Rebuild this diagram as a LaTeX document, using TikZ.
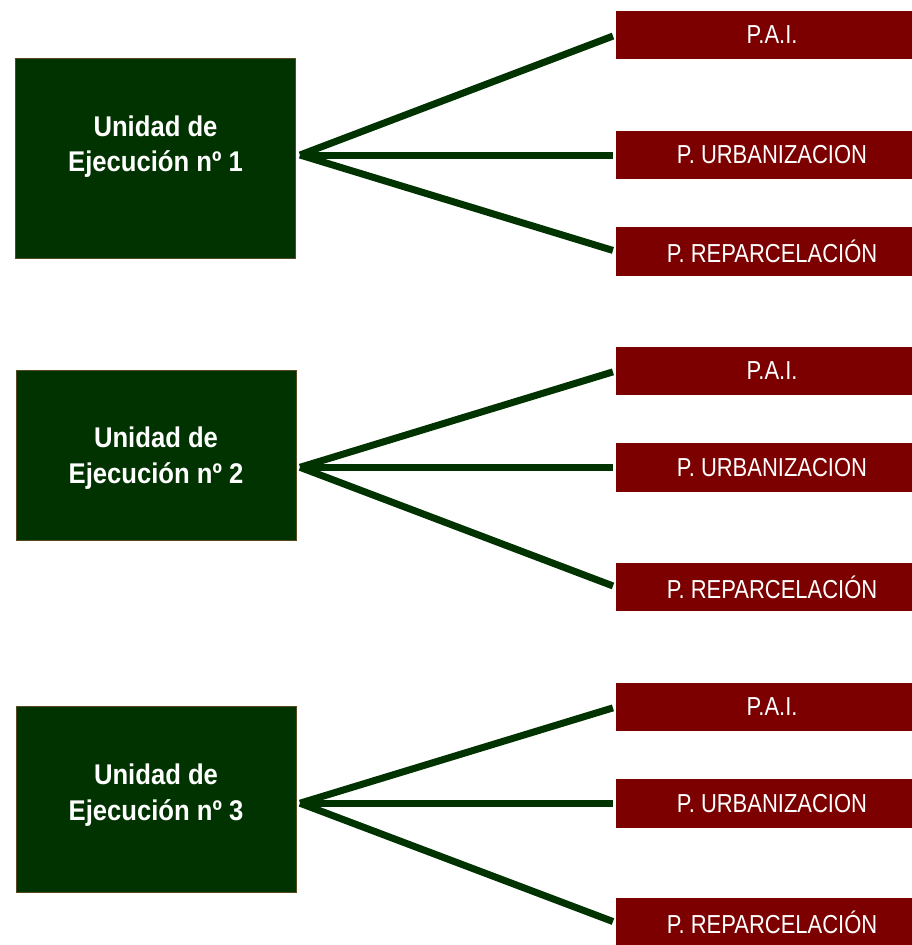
\documentclass[tikz,border=0pt]{standalone}
\usepackage{fontspec}
\setmainfont{Liberation Sans}
\newfontfamily\unitfont{Liberation Sans}[FakeStretch=0.90]
\newfontfamily\planfont{Liberation Sans}[FakeStretch=0.845]
\usetikzlibrary{positioning}
\definecolor{unitgreen}{RGB}{0, 51, 0}
\definecolor{unitedge}{RGB}{84, 74, 30}
\definecolor{planred}{RGB}{124, 0, 0}

\begin{document}
\begin{tikzpicture}[
    x=1pt, y=-1pt,
    % Box styles
    unit/.style={
        rectangle,
        minimum width=280pt,
        inner sep=0pt,
        fill=unitgreen,
        draw=unitedge,
        line width=0.8pt
    },
    unittext/.style={
        text=white,
        align=center,
        font=\unitfont\bfseries\fontsize{28.5}{35.7}\selectfont
    },
    plan/.style={
        rectangle,
        minimum width=312pt,
        minimum height=48.6pt,
        inner sep=0pt,
        text centered,
        fill=planred,
        text=white,
        font=\planfont\fontsize{26}{30}\selectfont
    },
    branch/.style={
        line width=7pt,
        draw=unitgreen,
        shorten >=3pt
    }
]
\useasboundingbox (0,0) rectangle (912,945);

% --- Units ---
\node (unit1) [unit, minimum height=200pt,
    label={[unittext, yshift=11.4pt]center:Unidad de\\Ejecución nº 1}] at (155.5,158) {};
\node (unit2) [unit, minimum height=170pt,
    label={[unittext, yshift=-2.8pt]center:Unidad de\\Ejecución nº 2}] at (156,455) {};
\node (unit3) [unit, minimum height=186pt,
    label={[unittext, yshift=4.2pt]center:Unidad de\\Ejecución nº 3}] at (156,799) {};

% --- Plans ---
\node (pai1) [plan] at (772,35) {P.A.I.};
\node (urb1) [plan] at (772,155) {P. URBANIZACION};
\node (rep1) [plan] at (772,251.3) {P. REPARCELACIÓN};

\node (pai2) [plan] at (772,371) {P.A.I.};
\node (urb2) [plan] at (772,467.3) {P. URBANIZACION};
\node (rep2) [plan] at (772,587) {P. REPARCELACIÓN};

\node (pai3) [plan] at (772,707) {P.A.I.};
\node (urb3) [plan] at (772,803.2) {P. URBANIZACION};
\node (rep3) [plan] at (772,922.6) {P. REPARCELACIÓN};

% --- Branch points ---
\coordinate (hub1) at (300,155);
\coordinate (hub2) at (300,467.3);
\coordinate (hub3) at (300,803.2);

% --- Edges ---
\draw [branch] (hub1) -- (pai1.west);
\draw [branch] (hub1) -- (urb1.west);
\draw [branch] (hub1) -- (rep1.west);

\draw [branch] (hub2) -- (pai2.west);
\draw [branch] (hub2) -- (urb2.west);
\draw [branch] (hub2) -- (rep2.west);

\draw [branch] (hub3) -- (pai3.west);
\draw [branch] (hub3) -- (urb3.west);
\draw [branch] (hub3) -- (rep3.west);

\end{tikzpicture}
\end{document}
